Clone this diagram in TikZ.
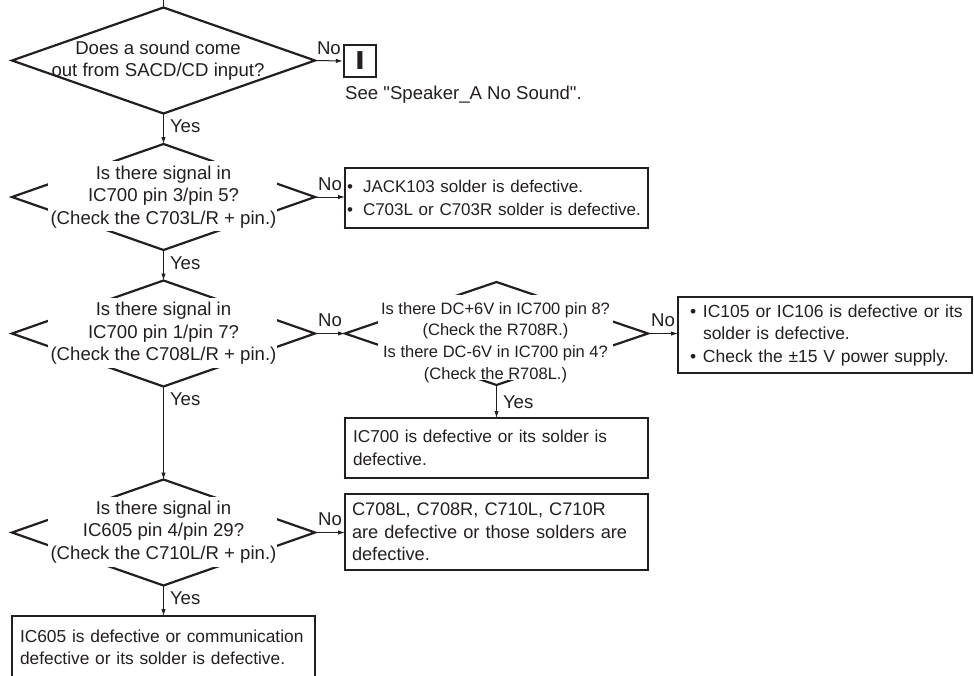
\documentclass[tikz,border=0pt]{standalone}
\usepackage{fontspec}
\usepackage{graphicx}
\setmainfont{Liberation Sans}
\usetikzlibrary{shapes.geometric,arrows.meta,calc}
\definecolor{ink}{RGB}{35,31,32}
% bullet set in a box of given width
\newcommand\bulitem[1]{\makebox[#1][l]{•}}
% one unbreakable line of a result box
\newcommand\boxline[1]{\mbox{#1}}
\newcommand\qfont{\fontsize{18.6pt}{22.5pt}\selectfont}
\newcommand\sqfont{\fontsize{16.5pt}{21.7pt}\selectfont}
\newcommand\boxfont[1]{\fontsize{#1}{22.5pt}\selectfont}
\begin{document}
\begin{tikzpicture}[x=1pt,y=-1pt,
  every node/.style={text=ink},
  decision/.style={draw=ink, shape=diamond, line width=2.2pt,
    minimum width=303pt, minimum height=106pt, inner sep=0pt, outer sep=0pt},
  mask/.style={fill=white, inner sep=0pt, outer sep=0pt},
  qtext/.style={align=center, inner sep=0pt, font=\qfont},
  result/.style={draw=ink, line width=2.3pt, anchor=north west, align=left,
    inner ysep=0pt, outer sep=0pt},
  flow/.style={draw=ink, line width=1pt, -{Latex[length=7pt,width=4.5pt]}},
  nolbl/.style={above=4pt, inner sep=2pt, font=\qfont},
  yeslbl/.style={anchor=north west, inner sep=1pt, xshift=5pt, yshift=-5pt, font=\qfont},
]
\useasboundingbox (0,0) rectangle (974,675);

% decision diamonds
\node[decision] (d1) at (163.5,60.5) {};
\node[decision] (d2) at (163.5,197) {};
\node[decision] (d3) at (163.5,333.5) {};
\node[decision] (d4) at (163.5,532.5) {};
\node[decision, minimum height=103pt] (d5) at (496.5,333.5) {};

% white areas behind the question texts
\node[mask, minimum width=229pt, minimum height=70pt] (m2) at (162.5,196) {};
\node[mask, minimum width=229pt, minimum height=70pt] (m3) at (162.5,332.5) {};
\node[mask, minimum width=229pt, minimum height=70pt] (m4) at (162.5,531.5) {};
\node[mask, minimum width=235pt, minimum height=85pt] (m5) at (495.5,337.5) {};

% question texts
\node[qtext] (q1) at (158,60.5) {Does a sound come\\out from SACD/CD input?};
\node[qtext] (q2) at (163.5,197) {Is there signal in\\IC700 pin 3/pin 5?\\(Check the C703L/R + pin.)};
\node[qtext] (q3) at (163.5,333.5) {Is there signal in\\IC700 pin 1/pin 7?\\(Check the C708L/R + pin.)};
\node[qtext] (q4) at (163.5,532) {Is there signal in\\IC605 pin 4/pin 29?\\(Check the C710L/R + pin.)};
\node[qtext, font=\sqfont] (q5) at (495.5,342.5) {Is there DC+6V in IC700 pin 8?\\(Check the R708R.)\\Is there DC-6V in IC700 pin 4?\\(Check the R708L.)};

% reference box and note
\node[draw=ink, line width=2.3pt, minimum size=32pt, inner sep=0pt,
  font=\bfseries\fontsize{26pt}{26pt}\selectfont] (ref) at (360,61) {\scalebox{1.35}[1]{I}};
\node[anchor=base west, inner sep=0pt, font=\qfont] (see) at (345,99.5)
  {See \textquotedbl Speaker\_A No Sound\textquotedbl.};

% result boxes
\node[result, minimum height=60pt, inner xsep=2pt, text width=299pt, font={\boxfont{17pt}}] (a2) at (345,168)
  {\boxline{\bulitem{16pt}JACK103 solder is defective.}\\
   \boxline{\bulitem{16pt}C703L or C703R solder is defective.}};
\node[result, minimum height=60pt, inner xsep=8pt, text width=287pt, font={\boxfont{17.25pt}}] (a3) at (345,418)
  {\boxline{IC700 is defective or its solder is}\\\boxline{defective.}};
\node[result, minimum height=76pt, inner xsep=7pt, text width=289pt, font={\boxfont{18.2pt}}] (a4) at (345,494)
  {\boxline{C708L, C708R, C710L, C710R}\\\boxline{are defective or those solders are}\\\boxline{defective.}};
\node[result, minimum height=76pt, inner xsep=8pt, text width=278pt, font={\boxfont{17.5pt}}] (a5) at (678,297)
  {\boxline{\hspace*{4pt}\bulitem{13pt}IC105 or IC106 is defective or its}\\
   \boxline{\hspace*{17pt}solder is defective.}\\
   \boxline{\hspace*{4pt}\bulitem{13pt}Check the ±15 V power supply.}};
\node[result, minimum height=63pt, inner xsep=8pt, text width=287pt, font={\boxfont{17.35pt}}] (a6) at (12,616)
  {\boxline{IC605 is defective or communication}\\\boxline{defective or its solder is defective.}};

% connectors
\coordinate (entry) at (163.5,0);
\draw[draw=ink, line width=1pt] (entry) -- (d1.north);
\draw[flow] (d1.east) -- node[nolbl]{No} (ref.west);
\draw[flow] (d1.south) -- node[yeslbl,pos=0]{Yes} (d2.north);
\draw[flow] (d2.east) -- node[nolbl]{No} (d2.east -| a2.west);
\draw[flow] (d2.south) -- node[yeslbl,pos=0]{Yes} (d3.north);
\draw[flow] (d3.east) -- node[nolbl]{No} (d5.west);
\draw[flow] (d3.south) -- node[yeslbl,pos=0]{Yes} (d4.north);
\draw[flow] (d4.east) -- node[nolbl]{No} (d4.east -| a4.west);
\draw[flow] (d4.south) -- node[yeslbl,pos=0]{Yes} (a6.north);
\draw[flow] (d5.east) -- node[nolbl]{No} (d5.east -| a5.west);
\draw[flow] (d5.south) -- node[yeslbl,pos=0,yshift=-4pt]{Yes} (a3.north);
\end{tikzpicture}
\end{document}
